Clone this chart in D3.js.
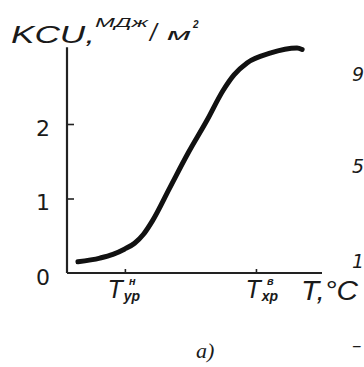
<!DOCTYPE html>
<html><head><meta charset="utf-8">
<script src="https://cdn.jsdelivr.net/npm/d3@7"></script>
<style>
html,body{margin:0;padding:0;background:#fff;}
svg{display:block;}
text{fill:#1a1a1a;}
</style></head>
<body>
<script>
// ---- data ----
const curveX = [4.3, 12.9, 18.0, 22.5, 26.5, 30.0, 33.5, 40.4, 47.5, 54.9, 61.2, 65.5, 70.6, 79.6, 90.2, 92.2];
const curveY = [0.15, 0.20, 0.25, 0.32, 0.40, 0.52, 0.70, 1.15, 1.61, 2.05, 2.45, 2.66, 2.82, 2.95, 3.02, 3.00];
const yTicks = [0, 1, 2];
const yTickLabels = ["0", "1", "2"];
const xTickValues = [22.7, 74.1];
const xTickMain = ["T", "T"];
const xTickSub = ["ур", "хр"];
const xTickSup = ["н", "в"];
const yTitleMain = "KCU,";
const yTitleUnit = ["МДж", "/", "м", "2"];
const xTitle = "T,°C";
const panelLabel = "a)";
const sideFragments = ["9", "5", "1", "–"];

const W = 364, H = 367;
const svg = d3.select("body").append("svg").attr("width", W).attr("height", H);

const x = d3.scaleLinear().domain([0, 100]).range([67, 322]);
const y = d3.scaleLinear().domain([0, 2]).range([273, 124]);

// y axis
const gy = svg.append("g").attr("transform", `translate(${x(0)},0)`)
  .call(d3.axisLeft(y).tickValues(yTicks).tickSize(-7).tickPadding(17)
    .tickFormat((d, i) => yTickLabels[i]));
gy.select(".domain").remove();
gy.append("line").attr("x1", 0).attr("x2", 0).attr("y1", y(3.03)).attr("y2", y(0))
  .attr("stroke", "#222").attr("stroke-width", 2.2);
gy.selectAll(".tick line").attr("stroke", "#222").attr("stroke-width", 1.6);
gy.selectAll(".tick").filter(d => d === 0).select("line").remove();
gy.selectAll(".tick text").attr("font-family", "DejaVu Sans").attr("font-size", 22)
  .attr("dy", "0.5em").attr("fill", "#1a1a1a");

// x axis
const xOff = [-18, -11];
const gx = svg.append("g").attr("transform", `translate(0,${y(0)})`)
  .call(d3.axisBottom(x).tickValues(xTickValues).tickSize(-4).tickFormat(""));
gx.select(".domain").remove();
gx.append("line").attr("x1", x(0)).attr("x2", x(100)).attr("y1", 0).attr("y2", 0)
  .attr("stroke", "#222").attr("stroke-width", 2.2);
gx.selectAll(".tick line").attr("stroke", "#222").attr("stroke-width", 1.6);
gx.selectAll(".tick").each(function(d, i) {
  const t = d3.select(this).append("text")
    .attr("x", xOff[i]).attr("y", 25).attr("text-anchor", "start")
    .attr("font-family", "Liberation Sans").attr("font-style", "italic").attr("fill", "#1a1a1a");
  t.append("tspan").attr("font-size", 25).text(xTickMain[i]);
  t.append("tspan").attr("font-size", 14).attr("dx", 1).attr("dy", 3).attr("font-weight", "bold").text(xTickSub[i]);
  t.append("tspan").attr("font-size", 11).attr("dx", -11).attr("dy", -16).attr("font-weight", "bold").text(xTickSup[i]);
});

// x title
svg.append("text").attr("x", 301).attr("y", 300)
  .attr("font-family", "Liberation Sans").attr("font-style", "italic")
  .attr("font-size", 27).attr("textLength", 57).attr("lengthAdjust", "spacingAndGlyphs")
  .attr("fill", "#1a1a1a").text(xTitle);

// y title
svg.append("text").attr("x", 11).attr("y", 43)
  .attr("font-family", "Liberation Sans").attr("font-style", "italic")
  .attr("font-size", 24).attr("textLength", 84).attr("lengthAdjust", "spacingAndGlyphs")
  .attr("fill", "#1a1a1a").text(yTitleMain);
const unit = svg.append("g").attr("font-family", "Liberation Sans").attr("font-style", "italic").attr("fill", "#1a1a1a");
unit.append("text").attr("x", 95).attr("y", 27).attr("font-size", 12)
  .attr("textLength", 53).attr("lengthAdjust", "spacingAndGlyphs").text(yTitleUnit[0]);
unit.append("text").attr("x", 150).attr("y", 41).attr("font-size", 24).text(yTitleUnit[1]);
unit.append("text").attr("x", 167).attr("y", 40).attr("font-size", 16)
  .attr("textLength", 24).attr("lengthAdjust", "spacingAndGlyphs").text(yTitleUnit[2]);
unit.append("text").attr("x", 193).attr("y", 28).attr("font-size", 10).attr("font-weight", "bold").text(yTitleUnit[3]);

// curve
const pts = curveX.map((v, i) => [v, curveY[i]]);
svg.append("path").datum(pts)
  .attr("d", d3.line().x(d => x(d[0])).y(d => y(d[1])).curve(d3.curveMonotoneX))
  .attr("fill", "none").attr("stroke", "#111").attr("stroke-width", 5)
  .attr("stroke-linecap", "round").attr("stroke-linejoin", "round");

// panel label
svg.append("text").attr("x", 196).attr("y", 358)
  .attr("font-family", "Liberation Serif").attr("font-style", "italic")
  .attr("font-size", 22).attr("fill", "#1a1a1a").text(panelLabel);

// fragments of the neighbouring panel, clipped at the right edge
const fragY = [81, 173, 268, 352];
sideFragments.forEach((s, i) => {
  svg.append("text").attr("x", 352).attr("y", fragY[i])
    .attr("font-family", "DejaVu Sans").attr("font-style", "italic")
    .attr("font-size", 19).attr("fill", "#222").text(s);
});
</script>
</body></html>
